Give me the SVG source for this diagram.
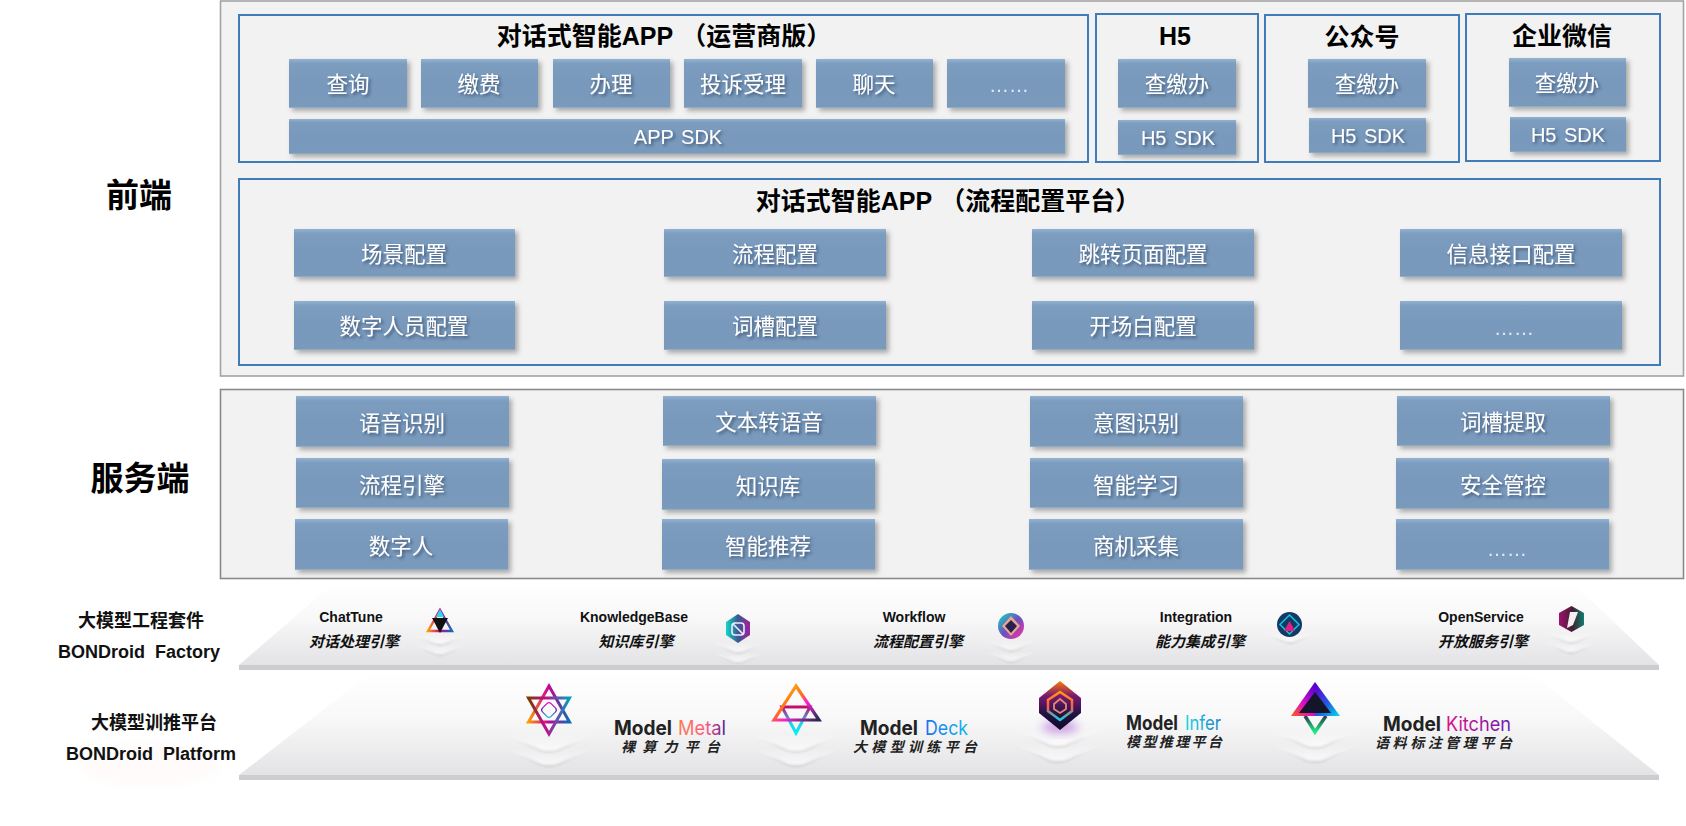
<svg xmlns="http://www.w3.org/2000/svg" width="1686" height="826" viewBox="0 0 1686 826">
<style>
text{font-family:"Liberation Sans","Noto Sans CJK SC",sans-serif;text-anchor:middle}
.panel{fill:#f2f2f2;stroke:#a3a3a3;stroke-width:1.6}
.box{fill:none;stroke:#3f7cb9;stroke-width:2}
.btn{fill:url(#btn);filter:url(#shadow)}
.bt{fill:#fff;font-size:21.5px;filter:url(#tshadow)}
.sdk{fill:#fff;font-size:20px;word-spacing:2px;filter:url(#tshadow)}
.dots{fill:#fff;font-size:20px;opacity:.8}
.title{fill:#000;font-size:25px;font-weight:700}
.layer{fill:#000;font-size:33px;font-weight:700}
.lab{fill:#111;font-size:18px;font-weight:700;white-space:pre}
.en{fill:#111;font-size:14px;font-weight:700}
.cn{fill:#111;font-size:15px;font-weight:700;font-style:italic}
.model{fill:#222;font-family:Inter,"Liberation Sans",sans-serif;font-size:20px;font-weight:700;text-anchor:start}
.modelb{font-family:Inter,"Liberation Sans",sans-serif;font-size:20px;font-weight:400;text-anchor:start}
.sub{fill:#222;font-size:14px;font-weight:700;font-style:italic;text-anchor:start}
.strip{fill:#cdcdd1}
</style>
<defs>
<linearGradient id="btn" x1="0" y1="0" x2="0" y2="1"><stop offset="0" stop-color="#94b2d2"/><stop offset=".1" stop-color="#7c9dbf"/><stop offset=".5" stop-color="#7899bc"/><stop offset=".97" stop-color="#7a9abc"/><stop offset="1" stop-color="#9db5cf"/></linearGradient>
<filter id="shadow" x="-10%" y="-10%" width="125%" height="140%"><feDropShadow dx="3" dy="3" stdDeviation="2.600" flood-color="#000" flood-opacity=".3"/></filter>
<filter id="tshadow" x="-15%" y="-25%" width="135%" height="160%"><feDropShadow dx="2" dy="2" stdDeviation="1.500" flood-color="#25405f" flood-opacity=".7"/></filter>
<linearGradient id="plat" x1="0" y1="0" x2="0" y2="1"><stop offset="0" stop-color="#fff"/><stop offset=".45" stop-color="#f8f8f9"/><stop offset="1" stop-color="#e3e3e5"/></linearGradient>
<linearGradient id="chg" x1="0" y1="0" x2="1" y2="0"><stop offset=".1" stop-color="#cfcfd4" stop-opacity="0"/><stop offset=".5" stop-color="#cfcfd4"/><stop offset=".9" stop-color="#cfcfd4" stop-opacity="0"/></linearGradient>
<linearGradient id="chf" x1="0" y1="0" x2="0" y2="1"><stop offset="0" stop-color="#fff" stop-opacity="0"/><stop offset="1" stop-color="#fff" stop-opacity=".8"/></linearGradient>
<filter id="soft" x="-20%" y="-80%" width="140%" height="260%"><feGaussianBlur stdDeviation=".9"/></filter>
<filter id="glow" x="-50%" y="-50%" width="200%" height="200%"><feGaussianBlur stdDeviation="5"/></filter>
<g id="chevS"><path d="M-26-10Q-10-4-5-1Q0 1 5-1Q10-4 26-10Q0-12-26-10Z" fill="url(#chf)"/><path d="M-24-9Q-10-3-5-1Q0 1 5-1Q10-3 24-9" fill="none" stroke="url(#chg)" stroke-width="1.800" filter="url(#soft)"/></g>
<g id="chevL"><path d="M-44-17Q-16-5-8-1Q0 1 8-1Q16-5 44-17Q0-20-44-17Z" fill="url(#chf)"/><path d="M-40-15Q-16-5-8-1Q0 1 8-1Q16-5 40-15" fill="none" stroke="url(#chg)" stroke-width="2.200" filter="url(#soft)"/></g>
<linearGradient id="g1" x1="0" y1="0" x2="1" y2="1"><stop offset="0" stop-color="#ff00c8"/><stop offset=".5" stop-color="#7a1fb0"/><stop offset="1" stop-color="#00c8e0"/></linearGradient>
<linearGradient id="gUp" x1="0" y1="0" x2="1" y2="0"><stop offset="0" stop-color="#ff9a00"/><stop offset=".5" stop-color="#c4009c"/><stop offset="1" stop-color="#0a6fb0"/></linearGradient>
<linearGradient id="gDn" x1="0" y1="0" x2="1" y2="0"><stop offset="0" stop-color="#7a3d00"/><stop offset=".4" stop-color="#c40a8c"/><stop offset="1" stop-color="#00a0c0"/></linearGradient>
<linearGradient id="gDeck" x1="0" y1="0" x2="1" y2="1"><stop offset="0" stop-color="#ffcc00"/><stop offset=".45" stop-color="#ff6a20"/><stop offset=".6" stop-color="#ff20d0"/><stop offset="1" stop-color="#1b2b50"/></linearGradient>
<linearGradient id="gDeck2" x1="0" y1="0" x2="0" y2="1"><stop offset="0" stop-color="#c80a6c"/><stop offset=".6" stop-color="#20d0f0"/><stop offset="1" stop-color="#00f0f0"/></linearGradient>
<linearGradient id="gHex" x1="0" y1="0" x2="0" y2="1"><stop offset="0" stop-color="#ff7a00"/><stop offset=".3" stop-color="#7a1a70"/><stop offset=".7" stop-color="#1e1240"/><stop offset="1" stop-color="#120a28"/></linearGradient>
<linearGradient id="gHexIn" x1="0" y1="0" x2="0" y2="1"><stop offset="0" stop-color="#ff9a10"/><stop offset=".5" stop-color="#ff5a50"/><stop offset="1" stop-color="#10d0e0"/></linearGradient>
<linearGradient id="gKitL" x1=".8" y1="0" x2="0" y2="1"><stop offset="0" stop-color="#5a00d0"/><stop offset=".55" stop-color="#e010c0"/><stop offset="1" stop-color="#ff6010"/></linearGradient>
<linearGradient id="gKitR" x1=".2" y1="0" x2="1" y2="1"><stop offset="0" stop-color="#5a00d0"/><stop offset=".55" stop-color="#2060e0"/><stop offset="1" stop-color="#00e0f0"/></linearGradient>
<linearGradient id="gKitV" x1="0" y1="0" x2="0" y2="1"><stop offset="0" stop-color="#2a3a50"/><stop offset="1" stop-color="#20f080"/></linearGradient>
<linearGradient id="gKB" x1="0" y1="0" x2="1" y2="0"><stop offset="0" stop-color="#10d8c8"/><stop offset=".5" stop-color="#3a5a90"/><stop offset="1" stop-color="#a020a0"/></linearGradient>
<linearGradient id="gWF" x1="0" y1="0" x2="1" y2="1"><stop offset="0" stop-color="#10e0c0"/><stop offset=".5" stop-color="#6a50c0"/><stop offset="1" stop-color="#ff30a0"/></linearGradient>
<linearGradient id="gOS" x1="0" y1="0" x2="1" y2="0"><stop offset="0" stop-color="#a01070"/><stop offset=".55" stop-color="#40202f"/><stop offset="1" stop-color="#108070"/></linearGradient>
<linearGradient id="tMetal" x1="0" y1="0" x2="1" y2="0"><stop offset="0" stop-color="#ff7a50"/><stop offset=".6" stop-color="#ff5a80"/><stop offset="1" stop-color="#501a90"/></linearGradient>
<linearGradient id="tDeck" x1="0" y1="0" x2="1" y2="0"><stop offset="0" stop-color="#1a70f0"/><stop offset="1" stop-color="#10b8f0"/></linearGradient>
<linearGradient id="tInfer" x1="0" y1="0" x2="1" y2="0"><stop offset="0" stop-color="#10d8e0"/><stop offset="1" stop-color="#1a80c8"/></linearGradient>
<linearGradient id="tKit" x1="0" y1="0" x2="1" y2="0"><stop offset="0" stop-color="#e0108c"/><stop offset="1" stop-color="#6a1ab0"/></linearGradient>
</defs>
<rect width="1686" height="826" fill="#fff"/>

<g id="frontend">
<rect class="panel" x="220.500" y="1" width="1463" height="375"/>
<text class="layer" x="139" y="207">前端</text>
</g>
<g id="app-operator">
<rect class="box" x="239" y="15" width="849" height="147"/>
<text class="title" x="664" y="45">对话式智能APP<tspan dx="8">（运营商版）</tspan></text>
<rect class="btn" x="289" y="59" width="118" height="49"/><text class="bt" x="348" y="92">查询</text>
<rect class="btn" x="421" y="59" width="117" height="49"/><text class="bt" x="479" y="92">缴费</text>
<rect class="btn" x="553" y="59" width="117" height="49"/><text class="bt" x="611" y="92">办理</text>
<rect class="btn" x="684" y="59" width="118" height="49"/><text class="bt" x="743" y="92">投诉受理</text>
<rect class="btn" x="816" y="59" width="117" height="49"/><text class="bt" x="874" y="92">聊天</text>
<rect class="btn" x="947" y="59" width="118" height="49"/><text class="dots" x="1009" y="92">……</text>
<rect class="btn" x="289" y="119" width="776" height="35"/><text class="sdk" x="678" y="144">APP SDK</text>
</g>
<g id="h5">
<rect class="box" x="1096" y="14" width="162" height="148"/>
<text class="title" x="1175" y="45">H5</text>
<rect class="btn" x="1118" y="59" width="118" height="49"/><text class="bt" x="1177" y="92">查缴办</text>
<rect class="btn" x="1118" y="120" width="118" height="35"/><text class="sdk" x="1178" y="145">H5 SDK</text>
</g>
<g id="official-account">
<rect class="box" x="1265" y="15" width="194" height="147"/>
<text class="title" x="1362" y="46">公众号</text>
<rect class="btn" x="1308" y="59" width="118" height="49"/><text class="bt" x="1367" y="92">查缴办</text>
<rect class="btn" x="1309" y="118" width="117" height="35"/><text class="sdk" x="1368" y="143">H5 SDK</text>
</g>
<g id="wecom">
<rect class="box" x="1466" y="14" width="194" height="147"/>
<text class="title" x="1562" y="45">企业微信</text>
<rect class="btn" x="1509" y="58" width="117" height="49"/><text class="bt" x="1567" y="91">查缴办</text>
<rect class="btn" x="1510" y="117" width="116" height="35"/><text class="sdk" x="1568" y="142">H5 SDK</text>
</g>
<g id="flow-config">
<rect class="box" x="239" y="179" width="1421" height="186"/>
<text class="title" x="948" y="210">对话式智能APP<tspan dx="8">（流程配置平台）</tspan></text>
<rect class="btn" x="294" y="229" width="221" height="48"/><text class="bt" x="404" y="262">场景配置</text>
<rect class="btn" x="664" y="229" width="222" height="48"/><text class="bt" x="775" y="262">流程配置</text>
<rect class="btn" x="1032" y="229" width="222" height="48"/><text class="bt" x="1143" y="262">跳转页面配置</text>
<rect class="btn" x="1400" y="229" width="222" height="48"/><text class="bt" x="1511" y="262">信息接口配置</text>
<rect class="btn" x="294" y="301" width="221" height="49"/><text class="bt" x="404" y="334">数字人员配置</text>
<rect class="btn" x="664" y="301" width="222" height="49"/><text class="bt" x="775" y="334">词槽配置</text>
<rect class="btn" x="1032" y="301" width="222" height="49"/><text class="bt" x="1143" y="334">开场白配置</text>
<rect class="btn" x="1400" y="301" width="222" height="49"/><text class="dots" x="1514" y="335">……</text>
</g>

<g id="server">
<rect class="panel" x="220.500" y="389.500" width="1463" height="189" style="stroke:#8a8a8a"/>
<text class="layer" x="140" y="490">服务端</text>
<rect class="btn" x="296" y="396" width="213" height="51"/><text class="bt" x="402" y="431">语音识别</text>
<rect class="btn" x="663" y="396" width="213" height="50"/><text class="bt" x="769" y="430">文本转语音</text>
<rect class="btn" x="1030" y="396" width="213" height="51"/><text class="bt" x="1136" y="431">意图识别</text>
<rect class="btn" x="1397" y="396" width="213" height="50"/><text class="bt" x="1503" y="430">词槽提取</text>
<rect class="btn" x="296" y="458" width="213" height="50"/><text class="bt" x="402" y="493">流程引擎</text>
<rect class="btn" x="662" y="459" width="213" height="51"/><text class="bt" x="768" y="494">知识库</text>
<rect class="btn" x="1030" y="458" width="213" height="50"/><text class="bt" x="1136" y="493">智能学习</text>
<rect class="btn" x="1396" y="458" width="213" height="51"/><text class="bt" x="1503" y="493">安全管控</text>
<rect class="btn" x="295" y="519" width="213" height="51"/><text class="bt" x="401" y="554">数字人</text>
<rect class="btn" x="662" y="519" width="213" height="51"/><text class="bt" x="768" y="554">智能推荐</text>
<rect class="btn" x="1029" y="519" width="214" height="51"/><text class="bt" x="1136" y="554">商机采集</text>
<rect class="btn" x="1396" y="519" width="213" height="51"/><text class="dots" x="1507" y="556">……</text>
</g>

<g id="factory">
<polygon points="335,582 1572,582 1659,665 239,665" fill="url(#plat)"/>
<rect class="strip" x="239" y="665" width="1420" height="5"/>
<text class="lab" x="141" y="627">大模型工程套件</text>
<text class="lab" x="139" y="658">BONDroid  Factory</text>

<use href="#chevS" x="440" y="645"/><use href="#chevS" x="440" y="655"/>
<use href="#chevS" x="738" y="653"/><use href="#chevS" x="738" y="663"/>
<use href="#chevS" x="1011" y="651"/><use href="#chevS" x="1011" y="662"/>
<use href="#chevS" x="1290" y="643"/>
<use href="#chevS" x="1571" y="643"/><use href="#chevS" x="1571" y="653"/>

<text class="en" x="351" y="622">ChatTune</text><text class="cn" x="354" y="647">对话处理引擎</text>
<g id="icon-chattune"><polygon points="440,610 452,631 428,631" fill="none" stroke="url(#gUp)" stroke-width="2.400"/><polygon points="440,633 448,618 432,618" fill="#111"/><polygon points="440,609 444,617 436,617" fill="#20e0f0"/></g>

<text class="en" x="634" y="622">KnowledgeBase</text><text class="cn" x="636" y="647">知识库引擎</text>
<g id="icon-kb"><polygon points="738,614 750,622 750,635 738,643 726,635 726,622" fill="url(#gKB)"/><rect x="732" y="623" width="12" height="12" rx="3" fill="none" stroke="#eef" stroke-width="1.600"/><line x1="733" y1="624" x2="743" y2="634" stroke="#eef" stroke-width="1.600"/></g>

<text class="en" x="914" y="622">Workflow</text><text class="cn" x="918" y="647">流程配置引擎</text>
<g id="icon-workflow"><ellipse cx="1011" cy="626" rx="13" ry="13" fill="url(#gWF)"/><polygon points="1011,616 1020,626 1011,636 1002,626" fill="#e8a890"/><polygon points="1011,620 1017,626 1011,633 1005,626" fill="#2a2050"/></g>

<text class="en" x="1196" y="622">Integration</text><text class="cn" x="1200" y="647">能力集成引擎</text>
<g id="icon-integration"><ellipse cx="1289.500" cy="624.500" rx="12.500" ry="12.500" fill="#123a68"/><polygon points="1289.500,615 1299,624.500 1289.500,634 1280,624.500" fill="none" stroke="#10c8d8" stroke-width="1.500"/><polygon points="1289.500,621 1295,631 1284,631" fill="#e02080"/></g>

<text class="en" x="1481" y="622">OpenService</text><text class="cn" x="1483" y="647">开放服务引擎</text>
<g id="icon-openservice"><polygon points="1571.500,606 1584,613 1584,625 1571.500,632 1559,625 1559,613" fill="url(#gOS)"/><polygon points="1567,628 1570,612 1578,612 1573,625" fill="#f2f0f0"/></g>
</g>

<g id="platform">
<ellipse cx="150" cy="765" rx="70" ry="22" fill="#fdece6" opacity=".18" filter="url(#glow)"/>
<polygon points="372,672 1530,672 1659,775 239,775" fill="url(#plat)"/>
<rect class="strip" x="239" y="775" width="1420" height="5"/>
<text class="lab" x="154" y="729">大模型训推平台</text>
<text class="lab" x="151" y="760">BONDroid  Platform</text>

<use href="#chevL" x="549" y="752"/><use href="#chevL" x="549" y="766"/>
<use href="#chevL" x="796" y="752"/><use href="#chevL" x="796" y="766"/>
<use href="#chevL" x="1058" y="747"/><use href="#chevL" x="1058" y="762"/>
<use href="#chevL" x="1315" y="748"/><use href="#chevL" x="1315" y="762"/>

<g id="model-metal">
<polygon points="549,686 528.500,722 569.500,722" fill="none" stroke="url(#gUp)" stroke-width="3"/>
<polygon points="549,734 528.500,698 569.500,698" fill="none" stroke="url(#gDn)" stroke-width="3"/>
<rect x="543" y="704" width="12" height="12" rx="3" transform="rotate(45 549 710)" fill="none" stroke="url(#g1)" stroke-width="1.200"/>
<text class="model" x="614" y="735" textLength="58" lengthAdjust="spacingAndGlyphs">Model</text>
<text class="modelb" x="678" y="735" fill="url(#tMetal)" textLength="48" lengthAdjust="spacingAndGlyphs">Metal</text>
<text class="sub" x="621" y="752" textLength="99" lengthAdjust="spacing">裸算力平台</text>
</g>
<g id="model-deck">
<polygon points="782,707 810,707 796,733" fill="none" stroke="url(#gDeck2)" stroke-width="3"/>
<polygon points="796,686 774,720 819,720" fill="none" stroke="url(#gDeck)" stroke-width="3.200"/>
<text class="model" x="860" y="735" textLength="58" lengthAdjust="spacingAndGlyphs">Model</text>
<text class="modelb" x="925" y="735" fill="url(#tDeck)" textLength="43" lengthAdjust="spacingAndGlyphs">Deck</text>
<text class="sub" x="853" y="752" textLength="124" lengthAdjust="spacing">大模型训练平台</text>
</g>
<g id="model-infer">
<ellipse cx="1060" cy="727" rx="18" ry="6" fill="#a040d0" opacity=".5" filter="url(#glow)"/>
<polygon points="1060,681 1081,698 1081,713 1060,730 1039,713 1039,698" fill="url(#gHex)"/>
<polygon points="1060,692 1072,700 1072,711 1060,720 1048,711 1048,700" fill="none" stroke="url(#gHexIn)" stroke-width="2.500"/>
<polygon points="1060,699 1066,704 1066,709 1060,713 1054,709 1054,704" fill="none" stroke="#e08a70" stroke-width="1.800"/>
<text class="model" x="1126" y="730" textLength="52" lengthAdjust="spacingAndGlyphs">Model</text>
<text class="modelb" x="1185" y="730" fill="url(#tInfer)" textLength="36" lengthAdjust="spacingAndGlyphs">Infer</text>
<text class="sub" x="1126" y="747" textLength="96" lengthAdjust="spacing">模型推理平台</text>
</g>
<g id="model-kitchen">
<polyline points="1305,716 1315,732 1326,716" fill="none" stroke="url(#gKitV)" stroke-width="3.500"/>
<polygon points="1315,682 1315,716 1291,716" fill="url(#gKitL)"/>
<polygon points="1315,682 1340,716 1315,716" fill="url(#gKitR)"/>
<polygon points="1315,692 1331,713 1299,713" fill="#14142a"/>
<text class="model" x="1383" y="731" textLength="58" lengthAdjust="spacingAndGlyphs">Model</text>
<text class="modelb" x="1446" y="731" fill="url(#tKit)" textLength="65" lengthAdjust="spacingAndGlyphs">Kitchen</text>
<text class="sub" x="1375" y="748" textLength="137" lengthAdjust="spacing">语料标注管理平台</text>
</g>
</g>
</svg>
